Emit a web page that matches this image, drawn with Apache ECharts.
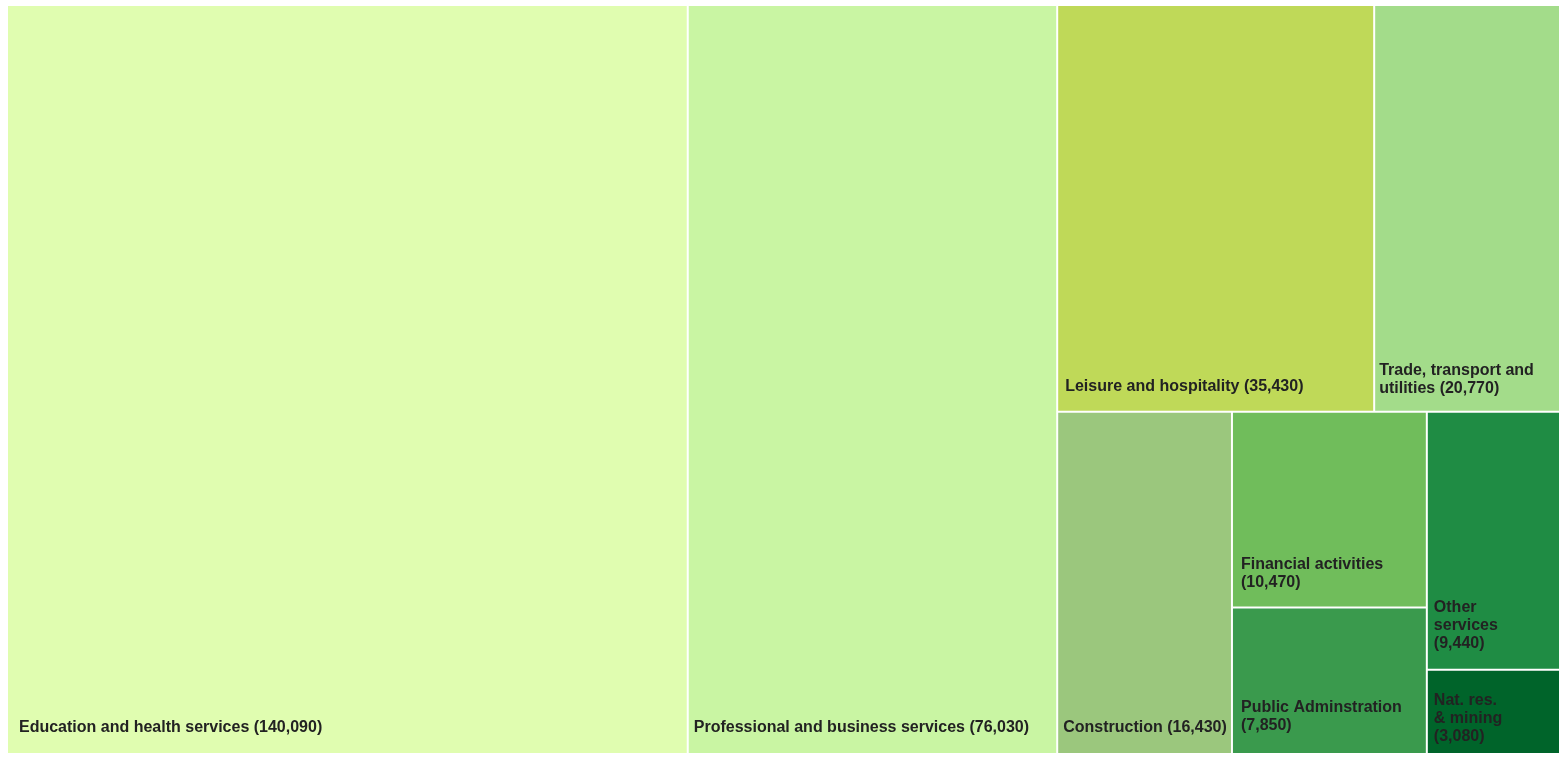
<!DOCTYPE html>
<html>
<head>
<meta charset="utf-8">
<script src="https://cdn.jsdelivr.net/npm/echarts@6/dist/echarts.min.js"></script>
<style>
  html, body { margin: 0; padding: 0; background: #ffffff; }
  #chart { width: 1568px; height: 759px; }
</style>
</head>
<body>
<div id="chart"></div>
<script>
// Employment by industry sector
const sectors = [
  'Education and health services',
  'Professional and business services',
  'Leisure and hospitality',
  'Trade, transport and utilities',
  'Construction',
  'Financial activities',
  'Public Adminstration',
  'Other services',
  'Nat. res. & mining'
];
const jobs = [140090, 76030, 35430, 20770, 16430, 10470, 7850, 9440, 3080];
// How each sector's name is wrapped inside its tile
const wrappedNames = [
  'Education and health services',
  'Professional and business services',
  'Leisure and hospitality',
  'Trade, transport and\nutilities',
  'Construction',
  'Financial activities',
  'Public Adminstration',
  'Other\nservices',
  'Nat. res.\n& mining'
];
// Whether the value goes on its own line
const valueOnNewLine = [false, false, false, false, false, true, true, true, true];
const tileColors = ['#e0fdb0', '#c9f5a3', '#bfd958', '#a3dc8a', '#9bc77d', '#70bd5b', '#3a9a4d', '#1f8c44', '#00642a'];
// Label nudges inside each tile [x, y]
const labelOffsets = [[6, -11], [0, -11], [2, -10], [-1, -8], [0, -11], [3, -10], [3, -13], [1, -11], [1, -2]];

// Nesting of the tiles (indices into the arrays above): each group splits in two
const tileTree = [0, [1, [[2, 3], [[4, [5, 6]], [7, 8]]]]];

const fmt = v => v.toLocaleString('en-US');

function leaf(i) {
  return {
    name: sectors[i],
    value: jobs[i],
    itemStyle: { color: tileColors[i], borderWidth: 1, borderColor: '#ffffff', gapWidth: 0 },
    label: { offset: labelOffsets[i] },
    labelText: wrappedNames[i] + (valueOnNewLine[i] ? '\n' : ' ') + '(' + fmt(jobs[i]) + ')'
  };
}
function build(node) {
  if (typeof node === 'number') return leaf(node);
  return {
    name: '',
    itemStyle: { borderWidth: 0, gapWidth: 0, color: '#ffffff' },
    children: node.map(build)
  };
}
const data = tileTree.map(build);

const chart = echarts.init(document.getElementById('chart'), null, { renderer: 'canvas' });
chart.setOption({
  animation: false,
  series: [{
    type: 'treemap',
    left: 7,
    top: 5,
    width: 1553,
    height: 749,
    roam: false,
    nodeClick: false,
    sort: false,
    squareRatio: 1,
    breadcrumb: { show: false },
    itemStyle: { borderColor: '#ffffff', borderWidth: 0, gapWidth: 0 },
    upperLabel: { show: false },
    label: {
      show: true,
      position: 'insideBottomLeft',
      distance: 0,
      color: '#222222',
      fontFamily: 'Liberation Sans, Arial, sans-serif',
      fontWeight: 'bold',
      fontSize: 16,
      lineHeight: 18,
      overflow: 'none',
      formatter: p => p.data.labelText || ''
    },
    data: data
  }]
});
</script>
</body>
</html>
